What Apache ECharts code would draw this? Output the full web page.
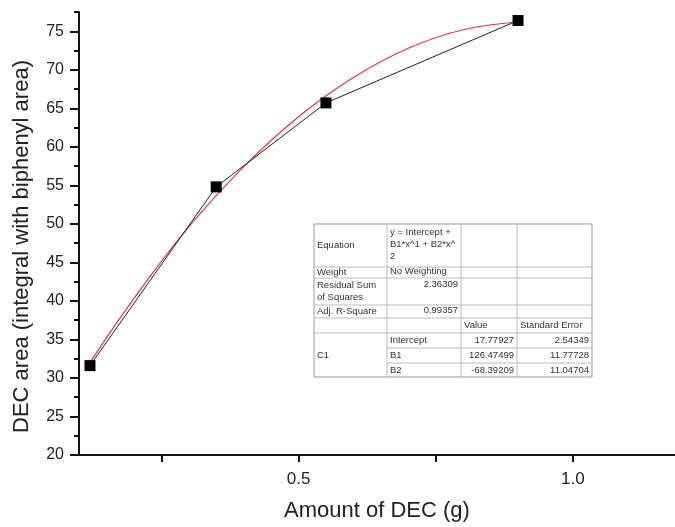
<!DOCTYPE html>
<html>
<head>
    <meta charset="utf-8">
    <title>DEC area vs amount</title>
    <script src="https://cdn.jsdelivr.net/npm/echarts@6/dist/echarts.min.js"></script>
    <style>
        html, body { margin: 0; padding: 0; background: #fff; }
        #main { width: 675px; height: 527px; }
    </style>
</head>
<body>
<div id="main"></div>
<script>
// measured points
const amountX = [0.12, 0.35, 0.55, 0.9];
const areaY = [31.6, 54.8, 65.7, 76.4];

// red fit curve
const fitX = [0.12, 0.2, 0.3, 0.4, 0.5, 0.6, 0.7, 0.8, 0.9];
const fitY = [32.0, 40.3, 49.6, 57.4, 63.9, 69.0, 72.8, 75.2, 76.2];

const yTicks = [20, 25, 30, 35, 40, 45, 50, 55, 60, 65, 70, 75];
const xTicks = [0.25, 0.5, 0.75, 1.0];
const xLabels = [0.5, 1.0];

// fit report table rows
const tableRows = [
    ['Equation', ['y = Intercept +', 'B1*x^1 + B2*x^', '2'], '', ''],
    ['Weight', ['No Weighting'], '', ''],
    ['Residual Sum|of Squares', '2.36309', '', ''],
    ['Adj. R-Square', '0.99357', '', ''],
    ['', '', 'Value', 'Standard Error'],
    ['C1', 'Intercept', '17.77927', '2.54349'],
    ['', 'B1', '126.47499', '11.77728'],
    ['', 'B2', '-68.39209', '11.04704']
];

const chart = echarts.init(document.getElementById('main'));

// table layout
const cols = [314, 387, 461, 517, 592];
const rows = [224, 267, 278, 305, 318, 333, 348, 363, 377];
const tFont = '9.5px "Liberation Sans", Arial, sans-serif';
const tColor = '#333';
const lineColor = '#bbb';

function txt(s, x, y, align) {
    return {
        type: 'text', z: 100,
        style: { text: s, x: x, y: y, font: tFont, fill: tColor, textAlign: align || 'left', textVerticalAlign: 'middle' }
    };
}

const g = [];
g.push({
    type: 'rect', z: 99,
    shape: { x: cols[0], y: rows[0], width: cols[4] - cols[0], height: rows[8] - rows[0] },
    style: { fill: '#fff', stroke: '#999', lineWidth: 1 }
});
// vertical lines
for (let i = 1; i < 4; i++) {
    g.push({ type: 'line', z: 100, shape: { x1: cols[i], y1: rows[0], x2: cols[i], y2: rows[8] }, style: { stroke: lineColor, lineWidth: 1 } });
}
// horizontal lines
for (let j = 1; j < 8; j++) {
    const x1 = j > 5 ? cols[1] : cols[0];
    g.push({ type: 'line', z: 100, shape: { x1: x1, y1: rows[j], x2: cols[4], y2: rows[j] }, style: { stroke: lineColor, lineWidth: 1 } });
}
// equation row
g.push(txt(tableRows[0][0], cols[0] + 3, (rows[0] + rows[1]) / 2));
tableRows[0][1].forEach((s, k) => g.push(txt(s, cols[1] + 3, rows[0] + 8 + k * 12)));
// weight
g.push(txt(tableRows[1][0], cols[0] + 3, (rows[1] + rows[2]) / 2));
g.push(txt(tableRows[1][1][0], cols[1] + 3, (rows[1] + rows[2]) / 2 - 1));
// residual
tableRows[2][0].split('|').forEach((s, k) => g.push(txt(s, cols[0] + 3, rows[2] + 7 + k * 12)));
g.push(txt(tableRows[2][1], cols[2] - 3, rows[2] + 6, 'right'));
// adj r-square
g.push(txt(tableRows[3][0], cols[0] + 3, (rows[3] + rows[4]) / 2));
g.push(txt(tableRows[3][1], cols[2] - 3, (rows[3] + rows[4]) / 2 - 1, 'right'));
// header
g.push(txt(tableRows[4][2], cols[2] + 3, (rows[4] + rows[5]) / 2));
g.push(txt(tableRows[4][3], cols[3] + 3, (rows[4] + rows[5]) / 2));
// C1 block
g.push(txt(tableRows[5][0], cols[0] + 3, (rows[5] + rows[8]) / 2));
for (let r = 5; r < 8; r++) {
    const cy = (rows[r] + rows[r + 1]) / 2;
    g.push(txt(tableRows[r][1], cols[1] + 3, cy));
    g.push(txt(tableRows[r][2], cols[3] - 3, cy, 'right'));
    g.push(txt(tableRows[r][3], cols[4] - 3, cy, 'right'));
}

const axisFont = '"Liberation Sans", Arial, sans-serif';

const option = {
    animation: false,
    backgroundColor: '#fff',
    grid: { left: 79, right: 0, top: 12, bottom: 71 },
    xAxis: {
        type: 'value',
        min: 0.1,
        max: 1.186,
        name: 'Amount of DEC (g)',
        nameLocation: 'middle',
        nameGap: 45,
        nameTextStyle: { fontSize: 22, color: '#222', fontFamily: axisFont },
        axisLine: { show: true, lineStyle: { color: '#111', width: 2 } },
        axisTick: { show: true, length: 7, customValues: xTicks, lineStyle: { color: '#111', width: 2 } },
        axisLabel: { customValues: xLabels, fontSize: 17, color: '#222', fontFamily: axisFont, margin: 16,
            formatter: v => v.toFixed(1) },
        splitLine: { show: false }
    },
    yAxis: [{
        type: 'value',
        min: 20,
        max: 77.5,
        name: 'DEC area (integral with biphenyl area)',
        nameLocation: 'middle',
        nameGap: 46,
        nameTextStyle: { fontSize: 22, color: '#222', fontFamily: axisFont, padding: [0, 26, 0, 0] },
        axisLine: { show: true, lineStyle: { color: '#111', width: 2 } },
        axisTick: { show: true, length: 9, customValues: yTicks, lineStyle: { color: '#111', width: 2 } },
        axisLabel: { customValues: yTicks, fontSize: 16, color: '#222', fontFamily: axisFont, margin: 15 },
        splitLine: { show: false }
    }, {
        // minor ticks every 2.5
        type: 'value',
        position: 'left',
        min: 20,
        max: 77.5,
        interval: 2.5,
        axisLine: { show: false },
        axisTick: { show: true, length: 5, lineStyle: { color: '#111', width: 2 } },
        axisLabel: { show: false },
        splitLine: { show: false }
    }],
    series: [{
        type: 'line',
        data: amountX.map((x, i) => [x, areaY[i]]),
        symbol: 'rect',
        symbolSize: 11,
        itemStyle: { color: '#000' },
        lineStyle: { color: '#222', width: 1 },
        z: 3
    }, {
        type: 'line',
        data: fitX.map((x, i) => [x, fitY[i]]),
        smooth: 0.4,
        showSymbol: false,
        lineStyle: { color: '#e8333a', width: 1.2 },
        z: 2
    }],
    graphic: g
};

chart.setOption(option);
</script>
</body>
</html>
